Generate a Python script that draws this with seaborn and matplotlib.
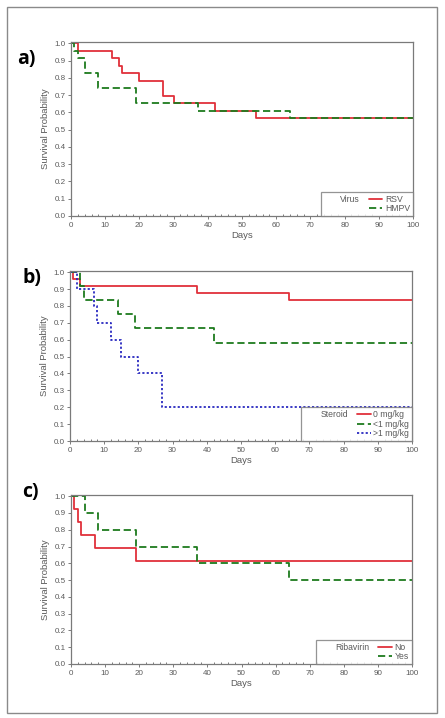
import matplotlib
matplotlib.use("Agg")
import matplotlib.pyplot as plt
from matplotlib.lines import Line2D
from matplotlib.patches import Rectangle
from matplotlib.ticker import MultipleLocator
import seaborn as sns
import pandas as pd

sns.set_theme(style="white")
plt.rcParams['font.family'] = ['Liberation Sans', 'DejaVu Sans']

followup_end = 100

# Panel a: Virus
rsv_days = [0, 2, 12, 14, 15, 20, 27, 30, 42, 54]
rsv_surv = [1.0, 0.957, 0.913, 0.870, 0.826, 0.783, 0.696, 0.652, 0.609, 0.565]
hmpv_days = [0, 1, 2, 4, 8, 19, 37, 64]
hmpv_surv = [1.0, 0.957, 0.913, 0.826, 0.739, 0.652, 0.609, 0.565]

# Panel b: Steroid
st0_days = [0, 1, 3, 37, 64]
st0_surv = [1.0, 0.958, 0.917, 0.875, 0.833]
stlt1_days = [0, 3, 4, 14, 19, 42]
stlt1_surv = [1.0, 0.917, 0.833, 0.75, 0.667, 0.583]
stgt1_days = [0, 2, 7, 8, 12, 15, 20, 27]
stgt1_surv = [1.0, 0.9, 0.8, 0.7, 0.6, 0.5, 0.4, 0.2]

# Panel c: Ribavirin
ribno_days = [0, 1, 2, 3, 7, 19]
ribno_surv = [1.0, 0.923, 0.846, 0.769, 0.692, 0.615]
ribyes_days = [0, 4, 8, 19, 37, 64]
ribyes_surv = [1.0, 0.9, 0.8, 0.7, 0.6, 0.5]

panel_labels = ["a)", "b)", "c)"]
legend_titles = ["Virus", "Steroid", "Ribavirin"]
x_ticks = list(range(0, 101, 10))
y_ticks = [round(0.1 * i, 1) for i in range(11)]

RED = "#e0303a"
GREEN = "#1e7b1e"
BLUE = "#2a2ac0"
TXT = "#5a5a5a"

panels = [
    [("RSV", rsv_days, rsv_surv, RED, ""), ("HMPV", hmpv_days, hmpv_surv, GREEN, (4, 2))],
    [("0 mg/kg", st0_days, st0_surv, RED, ""), ("<1 mg/kg", stlt1_days, stlt1_surv, GREEN, (4, 2)),
     (">1 mg/kg", stgt1_days, stgt1_surv, BLUE, (1.2, 1.2))],
    [("No", ribno_days, ribno_surv, RED, ""), ("Yes", ribyes_days, ribyes_surv, GREEN, (4, 2))],
]

W, H = 445, 718
fig = plt.figure(figsize=(W / 100, H / 100), dpi=100)

# axes boxes in pixels: (left, top, right, bottom)
boxes = [(71, 41.5, 413, 216), (70, 270.5, 412, 441), (71, 494.5, 412, 664)]
label_pos = [(17, 59), (22, 278), (22, 492)]

for i, (series, box) in enumerate(zip(panels, boxes)):
    l, t, r, b = box
    ax = fig.add_axes([l / W, 1 - b / H, (r - l) / W, (b - t) / H])
    rows = []
    for name, d, s, c, dash in series:
        dd = list(d) + [followup_end]
        ss = list(s) + [s[-1]]
        for x, y in zip(dd, ss):
            rows.append({"Days": x, "surv": y, "grp": name})
    df = pd.DataFrame(rows)
    names = [sr[0] for sr in series]
    palette = {sr[0]: sr[3] for sr in series}
    dashes = {sr[0]: sr[4] for sr in series}
    sns.lineplot(data=df, x="Days", y="surv", hue="grp", style="grp", hue_order=names,
                 style_order=names, palette=palette, dashes=dashes, drawstyle="steps-post",
                 estimator=None, sort=False, linewidth=1.3, ax=ax, legend=False)
    ax.set_xlim(0, 100)
    ax.set_ylim(0, 1.01)
    ax.set_xticks(x_ticks)
    ax.set_yticks(y_ticks)
    ax.set_yticklabels([f"{v:.1f}" for v in y_ticks])
    ax.xaxis.set_minor_locator(MultipleLocator(2))
    ax.tick_params(axis="both", which="major", labelsize=5.8, labelcolor=TXT, color="#666666",
                   length=2.5, width=0.6, direction="out", pad=1.5, bottom=True, left=True)
    ax.tick_params(axis="x", which="minor", length=1.5, width=0.6, color="#666666",
                   direction="in", bottom=True)
    ax.set_xlabel("Days", fontsize=6.8, color=TXT, labelpad=2)
    ax.set_ylabel("Survival Probability", fontsize=6.8, color=TXT, labelpad=3)
    for sp in ax.spines.values():
        sp.set_color("#7a7a7a")
        sp.set_linewidth(0.9)

    # legend: title in first column, entries in second
    blank = Line2D([], [], linestyle="none")
    handles = [blank] * len(series)
    labels = [legend_titles[i]] + [""] * (len(series) - 1)
    for name, d, s, c, dash in series:
        ls = "-" if dash == "" else (0, dash)
        handles.append(Line2D([], [], color=c, linestyle=ls, linewidth=1.3))
        labels.append(name)
    leg = ax.legend(handles, labels, ncol=2, loc="lower right", borderaxespad=0,
                    fontsize=6.2, frameon=True, fancybox=False, handlelength=1.6,
                    handletextpad=0.3, columnspacing=1.0, labelspacing=0.05,
                    borderpad=0.35, markerfirst=True)
    leg.get_frame().set_edgecolor("#7a7a7a")
    leg.get_frame().set_linewidth(0.9)
    for txt in leg.get_texts():
        txt.set_color(TXT)

    fig.text(label_pos[i][0] / W, 1 - label_pos[i][1] / H, panel_labels[i],
             fontsize=14, fontweight="bold", color="black", family=["Open Sans", "DejaVu Sans"],
             va="center", ha="left")

fig.patches.append(Rectangle((6.5 / W, 1 - 713 / H), (437 - 6.5) / W, (713 - 6.5) / H,
                             transform=fig.transFigure, fill=False, edgecolor="#8a8a8a",
                             linewidth=1.0))

fig.savefig("out.png", dpi=100, facecolor="white")
